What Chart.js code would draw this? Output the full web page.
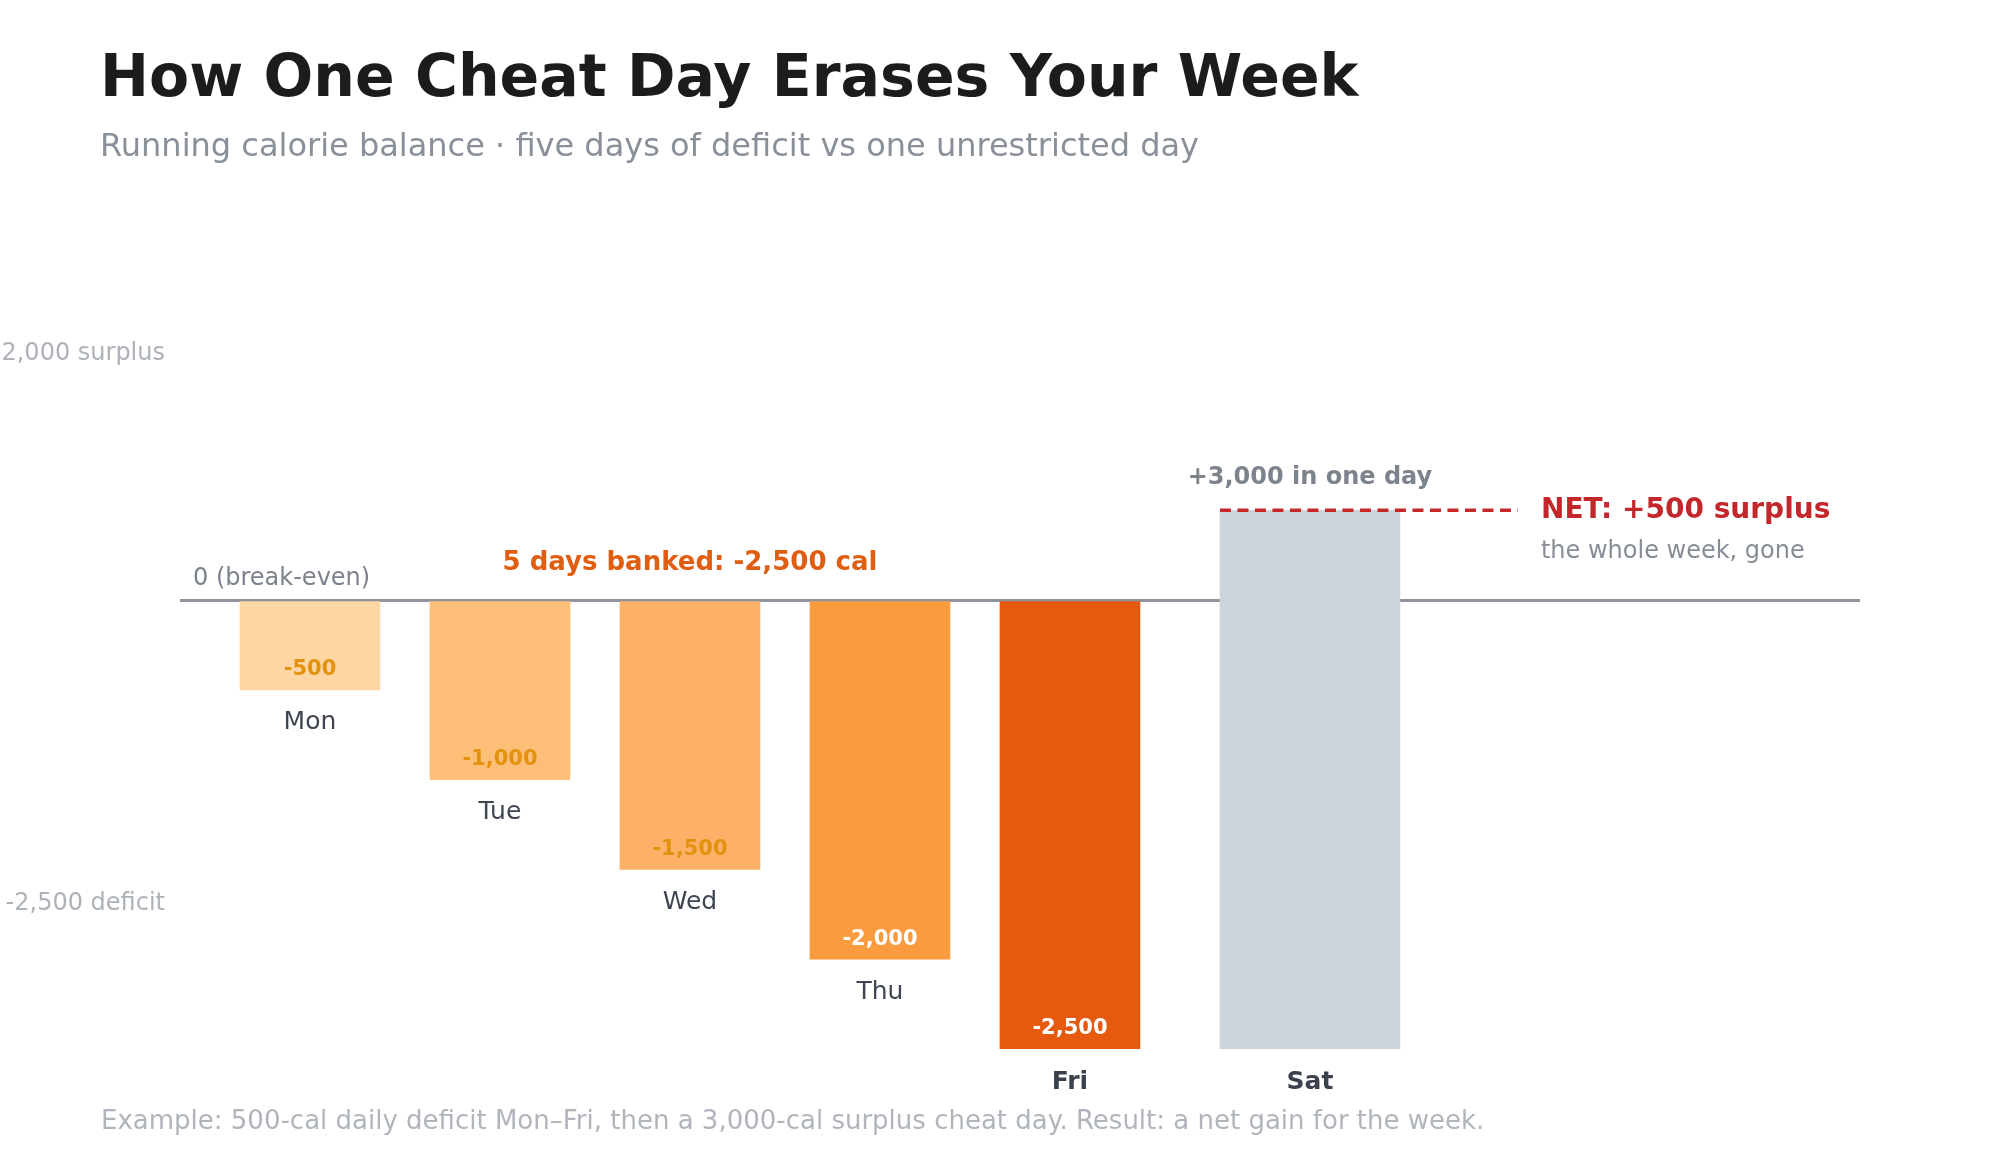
<!DOCTYPE html>
<html>
<head>
<meta charset="utf-8">
<title>How One Cheat Day Erases Your Week</title>
<script src="https://cdn.jsdelivr.net/npm/chart.js@4.4.1/dist/chart.umd.min.js"></script>
<style>
  html, body { margin: 0; padding: 0; background: #ffffff; }
  canvas { display: block; }
</style>
</head>
<body>
<canvas id="weekChart" width="2000" height="1160"></canvas>
<script>
// data
const days = ['Mon', 'Tue', 'Wed', 'Thu', 'Fri', 'Sat'];
const runningBalance = [-500, -1000, -1500, -2000, -2500];
const valueLabels = ['-500', '-1,000', '-1,500', '-2,000', '-2,500'];
const cheatDayRange = [-2500, 500];   // Sat climbs from Friday's low to the weekly net
const netBalance = 500;
const noteTicks = [2000, -2500];
const noteTickLabels = ['2,000 surplus', '-2,500 deficit'];

// look
const barColors = ['#fdd6a3', '#fdbf77', '#fdb067', '#f99b3e', '#e55a0f'];
const satColor = '#cdd3db';
const satGap = 1.263;   // Sat sits a bit further out than the weekday spacing
const font = '"DejaVu Sans", "Noto Sans", sans-serif';

const weekPoints = runningBalance.map((v, i) => ({ x: i, y: v }));
const satPoints = [{ x: runningBalance.length - 1 + satGap, y: cheatDayRange }];

const notes = {
  id: 'notes',
  afterDraw(chart) {
    const { ctx, chartArea, scales } = chart;
    const zeroY = scales.y.getPixelForValue(0);
    const netY = scales.y.getPixelForValue(netBalance);
    const week = chart.getDatasetMeta(0).data;
    const sat = chart.getDatasetMeta(1).data[0];

    ctx.save();
    // title block
    ctx.textAlign = 'left';
    ctx.textBaseline = 'alphabetic';
    ctx.fillStyle = '#1c1c1c';
    ctx.font = 'bold 58.5px ' + font;
    ctx.fillText('How One Cheat Day Erases Your Week', 100, 96);
    ctx.fillStyle = '#8a9099';
    ctx.font = '32px ' + font;
    ctx.fillText('Running calorie balance \u00b7 five days of deficit vs one unrestricted day', 100, 156);
    ctx.fillStyle = '#b0b5bc';
    ctx.font = '26px ' + font;
    ctx.fillText('Example: 500-cal daily deficit Mon\u2013Fri, then a 3,000-cal surplus cheat day. Result: a net gain for the week.', 101, 1129);

    // break-even label
    ctx.fillStyle = '#7d838c';
    ctx.font = '24px ' + font;
    ctx.fillText('0 (break-even)', chartArea.left + 13, zeroY - 15);

    // value labels inside bars
    ctx.textAlign = 'center';
    ctx.textBaseline = 'middle';
    ctx.font = 'bold 21px ' + font;
    week.forEach((bar, i) => {
      ctx.fillStyle = i >= 3 ? '#ffffff' : '#e3920f';
      ctx.fillText(valueLabels[i], bar.x, bar.y - 20);
    });

    // day labels under each bar
    [...week, sat].forEach((bar, i) => {
      const bottom = Math.max(bar.y, bar.base);
      const strong = i >= 4;
      ctx.font = (strong ? 'bold ' : '') + '25px ' + font;
      ctx.fillStyle = strong ? '#3b424d' : '#3f4652';
      ctx.fillText(days[i], bar.x, bottom + 33);
    });

    // banked callout over the weekdays
    ctx.textBaseline = 'alphabetic';
    ctx.font = 'bold 26px ' + font;
    ctx.fillStyle = '#e05e12';
    ctx.fillText('5 days banked: -2,500 cal', week[2].x, zeroY - 30);

    // cheat day callout
    ctx.font = 'bold 24px ' + font;
    ctx.fillStyle = '#7d838c';
    ctx.fillText('+3,000 in one day', sat.x, Math.min(sat.y, sat.base) - 26);

    // net line
    const lineStart = sat.x - sat.width / 2;
    const lineEnd = sat.x + sat.width / 2 + 118;
    ctx.strokeStyle = '#c62828';
    ctx.lineWidth = 3.5;
    ctx.setLineDash([11, 6.5]);
    ctx.beginPath();
    ctx.moveTo(lineStart, netY);
    ctx.lineTo(lineEnd, netY);
    ctx.stroke();
    ctx.setLineDash([]);

    ctx.textAlign = 'left';
    ctx.font = 'bold 28px ' + font;
    ctx.fillStyle = '#c3272b';
    ctx.fillText('NET: +500 surplus', lineEnd + 23, netY + 8);
    ctx.font = '24px ' + font;
    ctx.fillStyle = '#878d96';
    ctx.fillText('the whole week, gone', lineEnd + 23, netY + 48);
    ctx.restore();
  }
};

const ctx = document.getElementById('weekChart').getContext('2d');
new Chart(ctx, {
  type: 'bar',
  data: {
    datasets: [
      {
        data: weekPoints,
        backgroundColor: barColors,
        borderWidth: 0,
        barThickness: 140,
        grouped: false,
        yAxisID: 'y'
      },
      {
        data: satPoints,
        backgroundColor: satColor,
        borderWidth: 0,
        barThickness: 180,
        grouped: false,
        yAxisID: 'y'
      }
    ]
  },
  options: {
    responsive: false,
    animation: false,
    layout: { padding: { top: 241, bottom: 111, left: 0, right: 140 } },
    plugins: {
      legend: { display: false },
      tooltip: { enabled: false },
      title: { display: false }
    },
    scales: {
      x: {
        type: 'linear',
        display: false,
        offset: false,
        min: -0.684,
        max: 8.158
      },
      y: {
        position: 'left',
        min: -2500,
        max: 2000,
        afterBuildTicks: s => { s.ticks = [{ value: 0 }]; },
        afterFit: s => { s.width = 0; },
        ticks: { display: false },
        border: { display: false },
        grid: { color: '#8f949c', lineWidth: 3, drawTicks: false }
      },
      note: {
        position: 'left',
        min: -3691,
        max: 2920,
        afterBuildTicks: s => { s.ticks = noteTicks.map(v => ({ value: v })); },
        afterFit: s => { s.width = 180; },
        grid: { display: false, drawTicks: false },
        border: { display: false },
        ticks: {
          padding: 15,
          color: '#adb2b9',
          font: { family: font, size: 24 },
          callback: v => noteTickLabels[noteTicks.indexOf(v)]
        }
      }
    }
  },
  plugins: [notes]
});
</script>
</body>
</html>
